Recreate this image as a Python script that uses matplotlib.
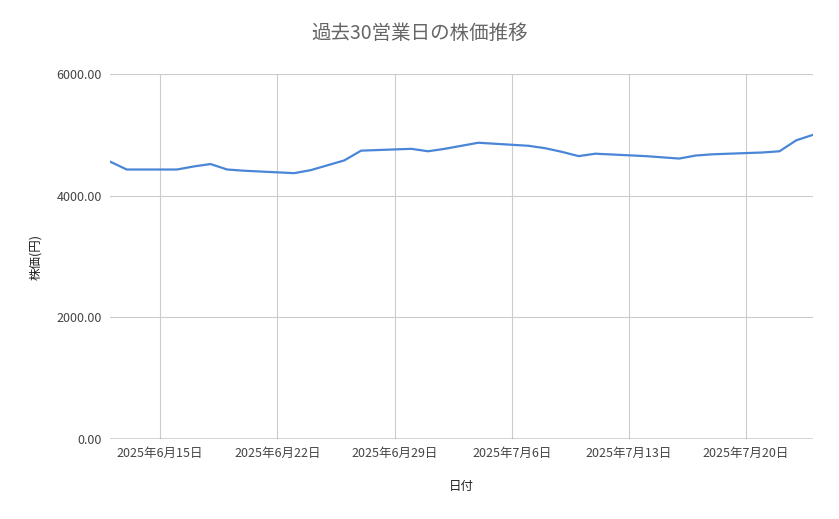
import numpy as np
import matplotlib; matplotlib.use("Agg")
import matplotlib.pyplot as plt

plt.rcParams['font.family'] = ['Noto Sans CJK JP', 'DejaVu Sans']

dates = np.array(["2025-06-12", "2025-06-13", "2025-06-16", "2025-06-17", "2025-06-18", "2025-06-19",
                  "2025-06-20", "2025-06-23", "2025-06-24", "2025-06-25", "2025-06-26", "2025-06-27",
                  "2025-06-30", "2025-07-01", "2025-07-02", "2025-07-03", "2025-07-04", "2025-07-07",
                  "2025-07-08", "2025-07-09", "2025-07-10", "2025-07-11", "2025-07-14", "2025-07-15",
                  "2025-07-16", "2025-07-17", "2025-07-18", "2025-07-21", "2025-07-22", "2025-07-23",
                  "2025-07-24"], dtype="datetime64[D]")
prices = [4560, 4430, 4430, 4480, 4520, 4430, 4410, 4370, 4420, 4500, 4580, 4740,
          4770, 4730, 4770, 4820, 4870, 4820, 4780, 4720, 4650, 4690, 4650, 4630,
          4610, 4660, 4680, 4710, 4730, 4910, 5000]
tick_dates = np.array(["2025-06-15", "2025-06-22", "2025-06-29", "2025-07-06", "2025-07-13", "2025-07-20"],
                      dtype="datetime64[D]")
tick_labels = ["2025年6月15日", "2025年6月22日", "2025年6月29日", "2025年7月6日", "2025年7月13日", "2025年7月20日"]

fig = plt.figure(figsize=(8.39, 5.19), dpi=100)
ax = fig.add_axes([110/839, 80/519, 703/839, 365/519])
ax.plot(dates, prices, color="#4a86d8", lw=1.6)
ax.set_xlim(dates[0], dates[-1])
ax.set_ylim(0, 6000)
ax.set_yticks([0, 2000, 4000, 6000])
ax.set_yticklabels([f"{v:.2f}" for v in [0, 2000, 4000, 6000]])
ax.set_xticks(tick_dates)
ax.set_xticklabels(tick_labels)
ax.grid(True, color="#cccccc", lw=0.8)
for s in ax.spines.values():
    s.set_visible(False)
ax.axhline(0, color="#333333", lw=1)
ax.tick_params(length=0, labelsize=9, colors="#444444", pad=6)
ax.set_xlabel("日付", fontsize=9, color="#222222", labelpad=14)
ax.set_ylabel("株価(円)", fontsize=9, color="#222222", labelpad=10)
fig.text(0.5, 0.925, "過去30営業日の株価推移", ha="center", fontsize=14, color="#666666")
plt.savefig("out.png", dpi=100)
